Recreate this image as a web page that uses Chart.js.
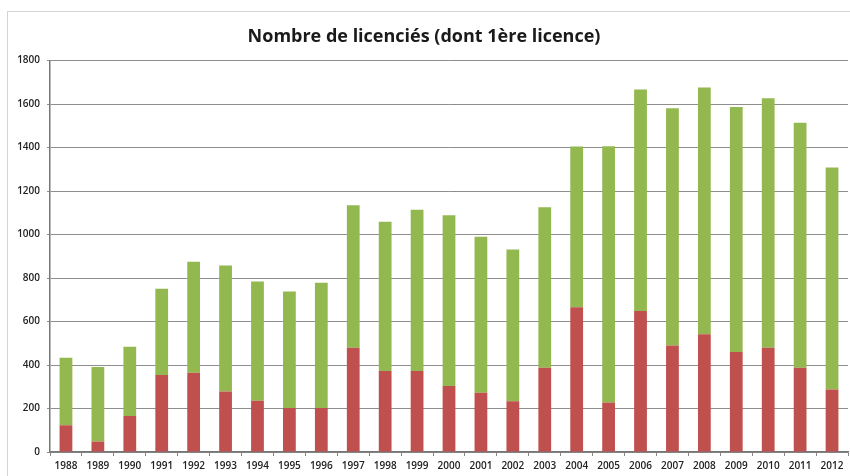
<!DOCTYPE html>
<html>
<head>
<meta charset="utf-8">
<script src="https://cdn.jsdelivr.net/npm/chart.js@4/dist/chart.umd.min.js"></script>
<style>
  body { margin: 0; background: #fff; }
  #wrap { position: relative; width: 850px; height: 476px; }
  #frame { position: absolute; left: 7px; top: 11px; right: -2px; bottom: -2px;
           border-left: 1px solid #d4d4d4; border-top: 1px solid #d4d4d4; }
  canvas { position: absolute; left: 0; top: 0; }
</style>
</head>
<body>
<div id="wrap">
  <div id="frame"></div>
  <canvas id="myChart" width="850" height="476"></canvas>
</div>
<script>
// years on the x axis
let years = ['1988','1989','1990','1991','1992','1993','1994','1995','1996','1997','1998','1999',
             '2000','2001','2002','2003','2004','2005','2006','2007','2008','2009','2010','2011','2012'];
// total number of licence holders
let totalLicences = [434, 391, 484, 751, 875, 858, 784, 738, 778, 1135, 1059, 1114,
                     1089, 990, 931, 1126, 1405, 1406, 1667, 1581, 1676, 1587, 1627, 1514, 1308];
// of which first licence
let firstLicences = [123, 48, 166, 354, 365, 278, 236, 202, 202, 480, 372, 372,
                     303, 273, 233, 388, 666, 228, 648, 490, 542, 460, 480, 388, 288];
let yTicks = [0, 200, 400, 600, 800, 1000, 1200, 1400, 1600, 1800];

// green part sits on top of the red one, so it is the rest of the total
let otherLicences = totalLicences.map((t, i) => t - firstLicences[i]);

let tickFont = { family: 'Open Sans', size: 10, weight: '600' };

new Chart('myChart', {
  type: 'bar',
  data: {
    labels: years,
    datasets: [
      { label: '1ère licence', data: firstLicences, backgroundColor: '#c0504d',
        barPercentage: 0.4, categoryPercentage: 1 },
      { label: 'Licenciés', data: otherLicences, backgroundColor: '#93b850',
        barPercentage: 0.4, categoryPercentage: 1 }
    ]
  },
  options: {
    responsive: false,
    animation: false,
    layout: { padding: { left: 0, right: 2, top: 0, bottom: 0 } },
    plugins: {
      legend: { display: false },
      tooltip: { enabled: false },
      title: {
        display: true,
        text: 'Nombre de licenciés (dont 1ère licence)',
        color: '#1a1a1a',
        font: { family: 'Open Sans', size: 18, weight: 'bold' },
        padding: { top: 26, bottom: 13 }
      }
    },
    scales: {
      x: {
        stacked: true,
        grid: { drawOnChartArea: false, drawTicks: true, tickLength: 4, color: '#888' },
        border: { color: '#777', width: 1.5 },
        ticks: { color: '#222', font: tickFont, padding: 4, maxRotation: 0, autoSkip: false }
      },
      y: {
        stacked: true,
        min: 0,
        max: 1800,
        afterBuildTicks: axis => { axis.ticks = yTicks.map(v => ({ value: v })); },
        afterFit: axis => { axis.width = 50; },
        grid: { color: '#8e8e8e', tickLength: 3 },
        border: { color: '#777', width: 1.5 },
        ticks: { color: '#222', font: tickFont, padding: 7, callback: v => String(v) }
      }
    }
  }
});
</script>
</body>
</html>
